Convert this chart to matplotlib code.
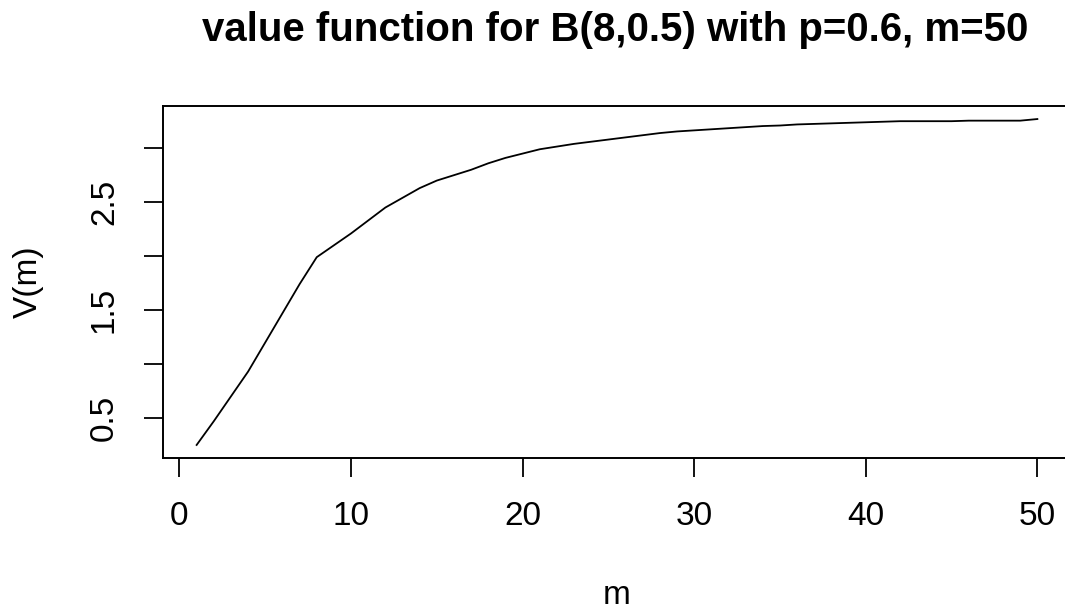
"""Value function V(m) for a B(8,0.5) game with p=0.6, up to m=50."""

import matplotlib.pyplot as plt

plt.rcParams["font.family"] = ["Liberation Sans", "DejaVu Sans"]

TITLE = "value function for B(8,0.5) with p=0.6, m=50"

m_values = list(range(1, 51))
v_values = [
    0.25, 0.47, 0.70, 0.93, 1.20, 1.47, 1.74, 1.99, 2.10, 2.21,
    2.33, 2.45, 2.54, 2.63, 2.70, 2.75, 2.80, 2.86, 2.91, 2.95,
    2.99, 3.015, 3.04, 3.06, 3.08, 3.10, 3.12, 3.14, 3.155, 3.165,
    3.175, 3.185, 3.195, 3.205, 3.21, 3.22, 3.225, 3.23, 3.235, 3.24,
    3.245, 3.25, 3.25, 3.25, 3.25, 3.255, 3.255, 3.255, 3.255, 3.27,
]

x_ticks = [0, 10, 20, 30, 40, 50]
y_ticks = [0.5, 1.0, 1.5, 2.0, 2.5, 3.0]
y_tick_labels = ["0.5", "", "1.5", "", "2.5", ""]

W, H = 1065, 614


def main():
    fig = plt.figure(figsize=(W / 100, H / 100), dpi=100)
    # plot region runs a little past the right edge of the figure
    ax = fig.add_axes([163 / W, 1 - 458 / H, (1071 - 163) / W, (458 - 106) / H])

    ax.plot(m_values, v_values, color="black", linewidth=1.3)
    ax.margins(x=0.04, y=0.04)

    ax.set_xticks(x_ticks)
    ax.set_yticks(y_ticks)
    ax.set_yticklabels(y_tick_labels, rotation=90, va="center")
    ax.tick_params(axis="both", direction="out", length=14, width=1.3,
                   labelsize=24, color="black")
    ax.tick_params(axis="x", pad=17)
    ax.tick_params(axis="y", pad=17)
    for spine in ax.spines.values():
        spine.set_linewidth(1.4)

    fig.text(28 / W, 1 - 282 / H, "V(m)", rotation=90, ha="center", va="center", fontsize=24)
    fig.text(617 / W, 1 - 595 / H, "m", ha="center", va="center", fontsize=24)
    fig.text(615 / W, 1 - 30 / H, TITLE, ha="center", va="center",
             fontsize=29, fontweight="bold")

    fig.savefig("out.png", dpi=100)


if __name__ == "__main__":
    main()
